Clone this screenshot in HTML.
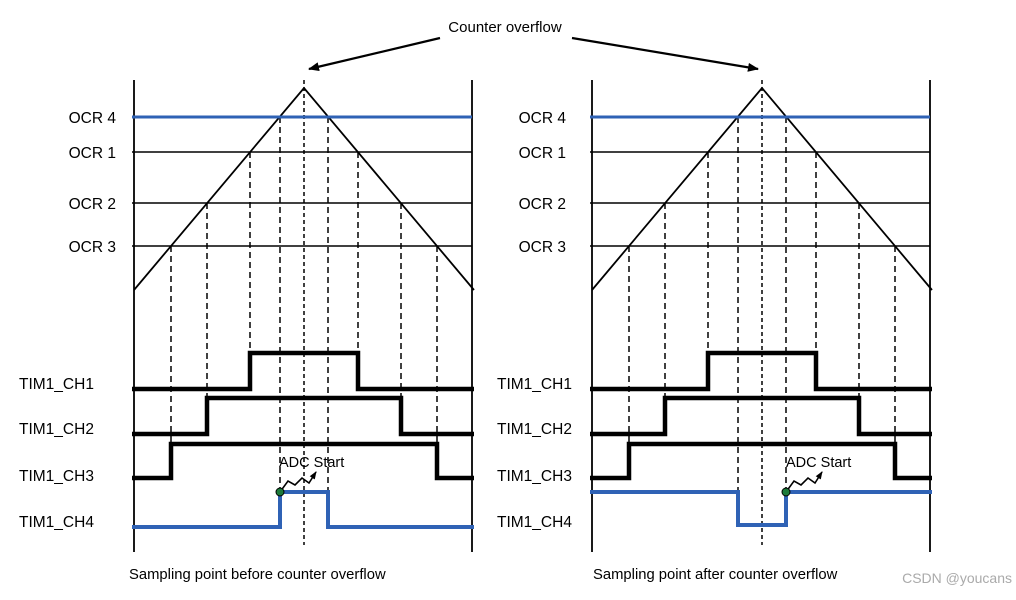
<!DOCTYPE html>
<html><head><style>
body{margin:0;background:#fff;}
svg text{font-family:"Liberation Sans",sans-serif;}
</style></head><body>
<svg width="1016" height="595" viewBox="0 0 1016 595" xmlns="http://www.w3.org/2000/svg">
<defs><marker id="ah" markerWidth="11" markerHeight="9" refX="10" refY="4.5" orient="auto" markerUnits="userSpaceOnUse"><path d="M0,0 L11,4.5 L0,9 z" fill="#000"/></marker>
<marker id="sa" markerWidth="8" markerHeight="6" refX="7" refY="3" orient="auto" markerUnits="userSpaceOnUse"><path d="M0,0 L8,3 L0,6 z" fill="#000"/></marker></defs>
<text x="505" y="32" font-size="15" text-anchor="middle">Counter overflow</text>
<line x1="440" y1="38" x2="309" y2="69" stroke="#000" stroke-width="2.2" marker-end="url(#ah)"/>
<line x1="572" y1="38" x2="758" y2="69" stroke="#000" stroke-width="2.2" marker-end="url(#ah)"/>
<g font-size="15.5" text-anchor="end">
<text x="116" y="123">OCR 4</text><text x="116" y="158">OCR 1</text><text x="116" y="209">OCR 2</text><text x="116" y="252">OCR 3</text>
<text x="566" y="123">OCR 4</text><text x="566" y="158">OCR 1</text><text x="566" y="209">OCR 2</text><text x="566" y="252">OCR 3</text>
</g>
<g font-size="15.5">
<text x="19" y="389">TIM1_CH1</text><text x="19" y="434">TIM1_CH2</text><text x="19" y="481">TIM1_CH3</text><text x="19" y="527">TIM1_CH4</text>
<text x="497" y="389">TIM1_CH1</text><text x="497" y="434">TIM1_CH2</text><text x="497" y="481">TIM1_CH3</text><text x="497" y="527">TIM1_CH4</text>
</g>
<g id="p">
<line x1="134" y1="80" x2="134" y2="552" stroke="#000" stroke-width="1.8"/>
<line x1="472" y1="80" x2="472" y2="552" stroke="#000" stroke-width="1.8"/>
<line x1="132" y1="152" x2="472" y2="152" stroke="#000" stroke-width="1.6"/>
<line x1="132" y1="203" x2="472" y2="203" stroke="#000" stroke-width="1.6"/>
<line x1="132" y1="246" x2="472" y2="246" stroke="#000" stroke-width="1.6"/>
<polyline points="134,290 304,88 474,290" fill="none" stroke="#000" stroke-width="1.8"/>
<g stroke="#000" stroke-width="1.5" stroke-dasharray="6,4">
<line x1="171" y1="246" x2="171" y2="478"/><line x1="207" y1="203" x2="207" y2="434"/>
<line x1="250" y1="152" x2="250" y2="389"/><line x1="280" y1="117" x2="280" y2="527"/>
<line x1="328" y1="117" x2="328" y2="527"/><line x1="358" y1="152" x2="358" y2="389"/>
<line x1="401" y1="203" x2="401" y2="434"/><line x1="437" y1="246" x2="437" y2="478"/>
</g>
<line x1="304" y1="80" x2="304" y2="545" stroke="#000" stroke-width="1.5" stroke-dasharray="4,3"/>
<line x1="132" y1="117" x2="472" y2="117" stroke="#2f62b5" stroke-width="3"/>
<g fill="none" stroke="#000" stroke-width="4.5">
<polyline points="132,389 250,389 250,353 358,353 358,389 474,389"/>
<polyline points="132,434 207,434 207,398 401,398 401,434 474,434"/>
<polyline points="132,478 171,478 171,444 437,444 437,478 474,478"/>
</g>
</g>
<use href="#p" x="458"/>
<polyline points="132,527 280,527 280,492 328,492 328,527 474,527" fill="none" stroke="#2f62b5" stroke-width="4"/>
<polyline points="590,492 738,492 738,525 786,525 786,492 932,492" fill="none" stroke="#2f62b5" stroke-width="4"/>
<text x="279" y="467" font-size="14.5">ADC Start</text>
<text x="786" y="467" font-size="14.5">ADC Start</text>
<polyline points="280,492 288,481 295,485 302,478 309,483 316,472" fill="none" stroke="#000" stroke-width="1.6" marker-end="url(#sa)"/>
<polyline points="786,492 794,481 801,485 808,478 815,483 822,472" fill="none" stroke="#000" stroke-width="1.6" marker-end="url(#sa)"/>
<circle cx="280" cy="492" r="4" fill="#1c7a3a" stroke="#000" stroke-width="1"/>
<circle cx="786" cy="492" r="4" fill="#1c7a3a" stroke="#000" stroke-width="1"/>
<text x="129" y="579" font-size="14.8">Sampling point before counter overflow</text>
<text x="593" y="579" font-size="14.8">Sampling point after counter overflow</text>
<text x="1012" y="583" font-size="14" fill="#aaa" text-anchor="end">CSDN @youcans</text>
</svg>
</body></html>
